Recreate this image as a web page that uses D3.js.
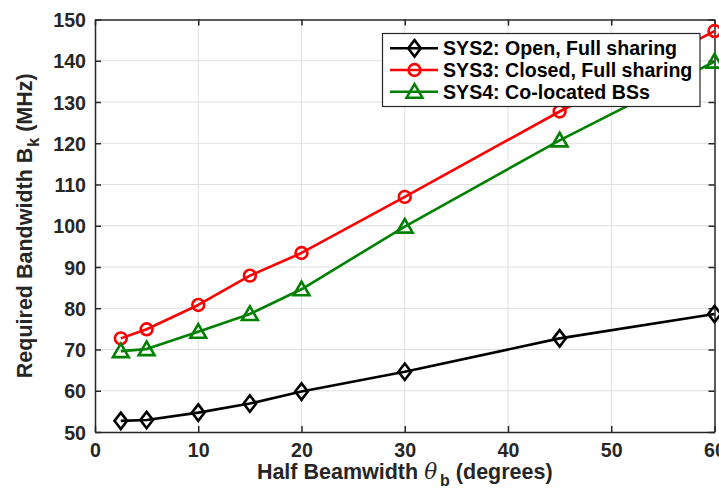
<!DOCTYPE html>
<html><head><meta charset="utf-8">
<script src="https://cdn.jsdelivr.net/npm/d3@7"></script>
<style>body{margin:0;background:#fff}svg{display:block}text{font-family:"Liberation Sans",Arial,Helvetica,sans-serif;font-weight:bold}</style>
</head><body><svg id="c" width="719" height="493"></svg>
<script>
const beamwidth = [2.5, 5, 10, 15, 20, 30, 45, 60];
const sys2 = [52.7, 52.9, 54.7, 56.9, 59.8, 64.6, 72.7, 78.6];
const sys3 = [72.7, 74.9, 80.8, 87.9, 93.4, 107.0, 127.7, 147.2];
const sys4 = [69.6, 70.1, 74.3, 78.6, 84.6, 99.8, 120.7, 139.8];
const seriesNames = ["SYS2: Open, Full sharing", "SYS3: Closed, Full sharing", "SYS4: Co-located BSs"];
const xTicks = [0, 10, 20, 30, 40, 50, 60];
const yTicks = [50, 60, 70, 80, 90, 100, 110, 120, 130, 140, 150];

const svg = d3.select("#c");
const L = 95, R = 714.5, T = 19.5, B = 432;
const x = d3.scaleLinear().domain([0, 60]).range([L, R]);
const y = d3.scaleLinear().domain([50, 150]).range([B, T]);
const axisCol = "#262626", gridCol = "#dfdfdf";

// grid
const g = svg.append("g");
g.selectAll(".vg").data(xTicks.slice(1, -1)).enter().append("line")
  .attr("x1", d => x(d)).attr("x2", d => x(d)).attr("y1", T).attr("y2", B)
  .attr("stroke", gridCol).attr("stroke-width", 1);
g.selectAll(".hg").data(yTicks.slice(1, -1)).enter().append("line")
  .attr("y1", d => y(d)).attr("y2", d => y(d)).attr("x1", L).attr("x2", R)
  .attr("stroke", gridCol).attr("stroke-width", 1);

// axes with inward ticks
const tl = 6;
const axB = svg.append("g").attr("transform", `translate(0,${B})`)
  .call(d3.axisBottom(x).tickValues(xTicks).tickSize(-tl).tickPadding(tl + 6).tickSizeOuter(0));
const axT = svg.append("g").attr("transform", `translate(0,${T})`)
  .call(d3.axisTop(x).tickValues(xTicks).tickSize(-tl).tickFormat("").tickSizeOuter(0));
const axL = svg.append("g").attr("transform", `translate(${L},0)`)
  .call(d3.axisLeft(y).tickValues(yTicks).tickSize(-tl).tickPadding(tl + 9).tickSizeOuter(0));
const axR = svg.append("g").attr("transform", `translate(${R},0)`)
  .call(d3.axisRight(y).tickValues(yTicks).tickSize(-tl).tickFormat("").tickSizeOuter(0));
[axB, axT, axL, axR].forEach(a => {
  a.select(".domain").attr("stroke", axisCol).attr("stroke-width", 1.5);
  a.selectAll(".tick line").attr("stroke", axisCol).attr("stroke-width", 1.5);
  a.selectAll("text").attr("fill", axisCol).style("font-size", "19.6px")
    .style("font-family", '"Liberation Sans",Arial,sans-serif').style("font-weight", "bold");
});
axB.selectAll("text").attr("dy", null).attr("y", 24.5);
axL.selectAll("text").attr("dy", "0.36em").attr("x", -9);

// series
const series = [
  {vals: sys2, color: "#000000", marker: "diamond"},
  {vals: sys3, color: "#ff0000", marker: "circle"},
  {vals: sys4, color: "#008000", marker: "triangle"}
];
const sw = 2.6;
function drawMarker(sel, type, color) {
  if (type === "circle") {
    sel.append("circle").attr("r", 5.9).attr("fill", "none").attr("stroke", color).attr("stroke-width", sw);
  } else if (type === "diamond") {
    sel.append("path").attr("d", "M0,-8.2 L6.3,0 L0,8.2 L-6.3,0 Z").attr("fill", "none").attr("stroke", color).attr("stroke-width", sw);
  } else {
    sel.append("path").attr("d", "M0,-7.6 L7.9,6 L-7.9,6 Z").attr("fill", "none").attr("stroke", color).attr("stroke-width", sw);
  }
}
const line = d3.line().x((d, i) => x(beamwidth[i])).y(d => y(d));
series.forEach(s => {
  svg.append("path").datum(s.vals).attr("d", line).attr("fill", "none")
    .attr("stroke", s.color).attr("stroke-width", sw).attr("stroke-linejoin", "round");
  s.vals.forEach((v, i) => {
    const m = svg.append("g").attr("transform", `translate(${x(beamwidth[i])},${y(v)})`);
    drawMarker(m, s.marker, s.color);
  });
});

// legend
const lg = svg.append("g");
lg.append("rect").attr("x", 382.5).attr("y", 33.5).attr("width", 317.5).attr("height", 73)
  .attr("fill", "#fff").attr("stroke", axisCol).attr("stroke-width", 1.2);
seriesNames.forEach((n, i) => {
  const cy = 48.3 + i * 21.7;
  lg.append("line").attr("x1", 390).attr("x2", 438).attr("y1", cy).attr("y2", cy)
    .attr("stroke", series[i].color).attr("stroke-width", sw);
  drawMarker(lg.append("g").attr("transform", `translate(414.5,${cy})`), series[i].marker, series[i].color);
  lg.append("text").attr("x", 443).attr("y", cy + 7).attr("fill", "#000")
    .style("font-size", "19.6px").text(n);
});

// axis labels
const xl = svg.append("text").attr("x", (L + R) / 2).attr("y", 479).attr("text-anchor", "middle")
  .attr("fill", axisCol).style("font-size", "21.5px");
xl.append("tspan").text("Half Beamwidth ");
xl.append("tspan").text("θ").style("font-style", "italic").style("font-weight", "normal")
  .style("font-family", '"DejaVu Serif",serif');
xl.append("tspan").text("b").attr("dy", 7).attr("dx", 3).style("font-size", "16px");
xl.append("tspan").text(" (degrees)").attr("dy", -7);

const yl = svg.append("text").attr("transform", `translate(31.5,${(T + B) / 2}) rotate(-90)`)
  .attr("text-anchor", "middle").attr("fill", axisCol).style("font-size", "21.5px");
yl.append("tspan").text("Required Bandwidth B");
yl.append("tspan").text("k").attr("dy", 7).attr("dx", 1).style("font-size", "16px");
yl.append("tspan").text(" (MHz)").attr("dy", -7);
</script></body></html>
